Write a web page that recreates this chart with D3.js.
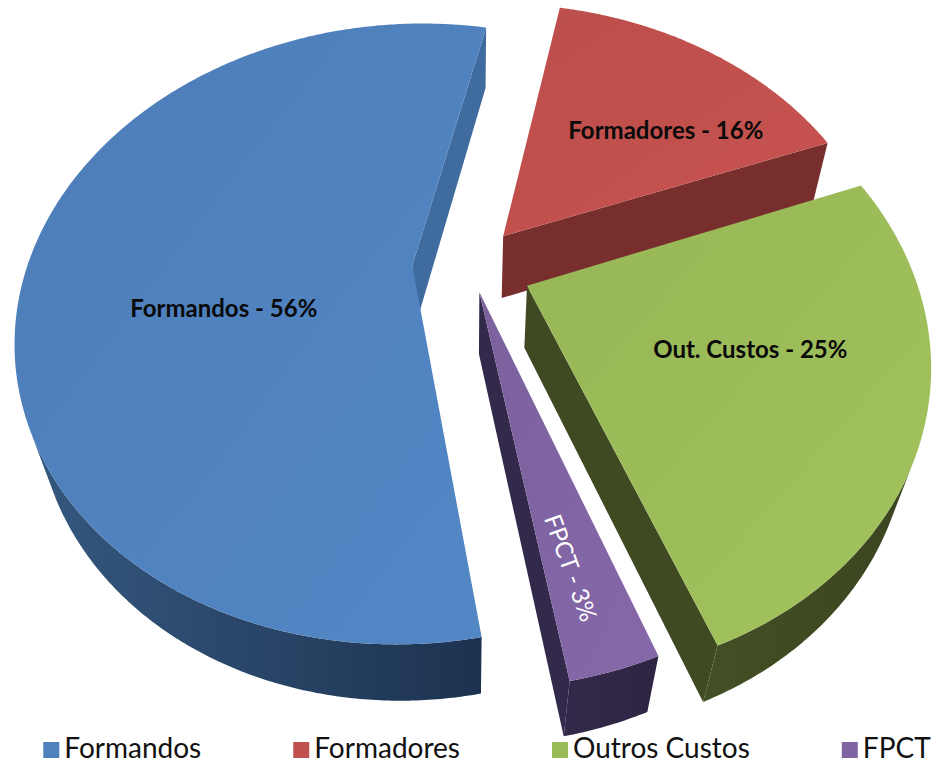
<!DOCTYPE html>
<html><head><meta charset="utf-8">
<script src="https://cdn.jsdelivr.net/npm/d3@7"></script>
<style>html,body{margin:0;padding:0;background:#fff}svg{display:block}</style>
</head><body>
<svg id="chart" width="934" height="766"></svg>
<script>
// ---- data ----
const categories = ["Formandos", "Formadores", "Outros Custos", "FPCT"];
const labelNames = ["Formandos", "Formadores", "Out. Custos", "FPCT"];
const values = [56, 16, 25, 3];
const percentLabels = ["56%", "16%", "25%", "3%"];

// ---- styles / layout ----
const topColors  = ["#4f81bd", "#c0504d", "#9bbb59", "#8064a2"];
const faceColors = ["#3f6b9f", "#772e2d", "#3f4a23", "#33294a"];
const wallColors = [["#35587f", "#1d3250"], ["#772e2d", "#5e2322"], ["#434f25", "#3b4520"], ["#34294a", "#2e2442"]];
const explode = [0.15, 0.136, 0.16, 0.09];
const labelPos = [{r: 0.49, d: -17}, {r: 0.63, d: 9}, {r: 0.575, d: -4}, {r: 0.77, d: 1}];
const rad = Math.PI / 180;

const V = {cx: 470, cy: 266, sx: 385, sy: 418, elev: 45 * rad, dist: 3.2, h: 0.22};
const sE = Math.sin(V.elev), cE = Math.cos(V.elev);
const xScale = d3.scaleLinear().domain([-1, 1]).range([V.cx - V.sx, V.cx + V.sx]);
const yScale = d3.scaleLinear().domain([-1, 1]).range([V.cy + V.sy, V.cy - V.sy]);
const cam = [0, -V.dist * cE, V.dist * sE];

function proj(p) {
  const [x, y, z] = p;
  const v = y * sE + z * cE, w = y * cE - z * sE;
  const f = V.dist / (V.dist + w);
  return [xScale(f * x), yScale(f * v)];
}

const svg = d3.select("#chart");
const defs = svg.append("defs");
const line = d3.line();
const poly = pts => line(pts.map(proj)) + "Z";

const pie = d3.pie().sort(null).value(d => d)
  .startAngle(170 * rad).endAngle(170 * rad + 2 * Math.PI);
const arcs = pie(values);

// gradients
topColors.forEach((c, i) => {
  const g = defs.append("linearGradient").attr("id", "top" + i)
    .attr("x1", "0").attr("y1", "0").attr("x2", "1").attr("y2", "1");
  g.append("stop").attr("offset", "0").attr("stop-color", d3.color(c).darker(0.08));
  g.append("stop").attr("offset", "1").attr("stop-color", d3.color(c).brighter(0.12));
  const w = defs.append("linearGradient").attr("id", "wall" + i)
    .attr("x1", "0").attr("y1", "0").attr("x2", "1").attr("y2", "0");
  w.append("stop").attr("offset", "0").attr("stop-color", wallColors[i][0]);
  w.append("stop").attr("offset", "1").attr("stop-color", wallColors[i][1]);
});

const slices = arcs.map((a, i) => {
  const mid = (a.startAngle + a.endAngle) / 2;
  const ox = explode[i] * Math.sin(mid), oy = explode[i] * Math.cos(mid);
  return {a, i, mid, ox, oy};
});
// far slices first
slices.sort((s, t) => (t.oy + 0.5 * Math.cos(t.mid)) - (s.oy + 0.5 * Math.cos(s.mid)));

const gPie = svg.append("g");
const H = V.h;

slices.forEach(s => {
  const {a, i, ox, oy} = s;
  const P = (t, r, z) => [ox + r * Math.sin(t), oy + r * Math.cos(t), z];
  const a0 = a.startAngle, a1 = a.endAngle;
  const g = gPie.append("g");
  const tip = [ox, oy, 0], tipB = [ox, oy, -H];
  const dotCam = (n, p) => n[0] * (cam[0] - p[0]) + n[1] * (cam[1] - p[1]);

  // radial faces
  const n0 = [-Math.cos(a0), Math.sin(a0)];
  if (dotCam(n0, tip) > 0)
    g.append("path").attr("d", poly([tip, P(a0, 1, 0), P(a0, 1, -H), tipB])).attr("fill", faceColors[i]);
  const n1 = [Math.cos(a1), -Math.sin(a1)];
  if (dotCam(n1, tip) > 0)
    g.append("path").attr("d", poly([tip, P(a1, 1, 0), P(a1, 1, -H), tipB])).attr("fill", faceColors[i]);

  // outer wall (visible runs)
  const N = Math.max(8, Math.ceil((a1 - a0) / (0.5 * rad)));
  const ts = d3.range(N + 1).map(k => a0 + (a1 - a0) * k / N);
  let run = [];
  const runs = [];
  ts.forEach(t => {
    const p = P(t, 1, 0);
    const vis = dotCam([Math.sin(t), Math.cos(t)], p) > 0;
    if (vis) run.push(t); else { if (run.length > 1) runs.push(run); run = []; }
  });
  if (run.length > 1) runs.push(run);
  runs.forEach(r => {
    const pts = r.map(t => P(t, 1, 0)).concat(r.slice().reverse().map(t => P(t, 1, -H)));
    g.append("path").attr("d", poly(pts)).attr("fill", `url(#wall${i})`);
  });

  // top face
  const topPts = [tip].concat(ts.map(t => P(t, 1, 0)));
  g.append("path").attr("d", poly(topPts)).attr("fill", `url(#top${i})`);
});

// labels
const gLab = svg.append("g");
slices.slice().sort((s, t) => s.i - t.i).forEach(s => {
  const {i, mid, ox, oy} = s;
  const lp = labelPos[i];
  const t = mid + lp.d * rad;
  const pt = proj([ox + lp.r * Math.sin(t), oy + lp.r * Math.cos(t), 0]);
  const txt = labelNames[i] + " - " + percentLabels[i];
  if (i === 3) {
    const p0 = proj([ox, oy, 0]), p1 = proj([ox + Math.sin(mid), oy + Math.cos(mid), 0]);
    const ang = Math.atan2(p1[1] - p0[1], p1[0] - p0[0]) / rad;
    gLab.append("text").attr("transform", `translate(${pt[0]},${pt[1]}) rotate(${ang})`)
      .attr("text-anchor", "middle").attr("dominant-baseline", "central")
      .attr("font-family", "Lato, 'Open Sans', sans-serif").attr("font-size", 24)
      .attr("fill", "#ffffff").text(txt);
  } else {
    gLab.append("text").attr("x", pt[0]).attr("y", pt[1])
      .attr("text-anchor", "middle").attr("dominant-baseline", "central")
      .attr("font-family", "Lato, 'Open Sans', sans-serif").attr("font-weight", "bold")
      .attr("font-size", 24).attr("fill", "#0a0a0a").text(txt);
  }
});

// legend
const gLeg = svg.append("g");
const items = categories.map((c, i) => {
  const g = gLeg.append("g");
  g.append("rect").attr("x", 0).attr("y", -16).attr("width", 16).attr("height", 16).attr("fill", topColors[i]);
  const t = g.append("text").attr("x", 21).attr("y", 0)
    .attr("font-family", "Lato, 'Open Sans', sans-serif").attr("font-size", 28)
    .attr("fill", "#111").text(c);
  return {g, w: 21 + t.node().getComputedTextLength()};
});
const gap = 92;
const total = d3.sum(items, d => d.w) + gap * (items.length - 1);
let x0 = 487 - total / 2;
items.forEach(it => { it.g.attr("transform", `translate(${x0},758)`); x0 += it.w + gap; });
</script>
</body></html>
